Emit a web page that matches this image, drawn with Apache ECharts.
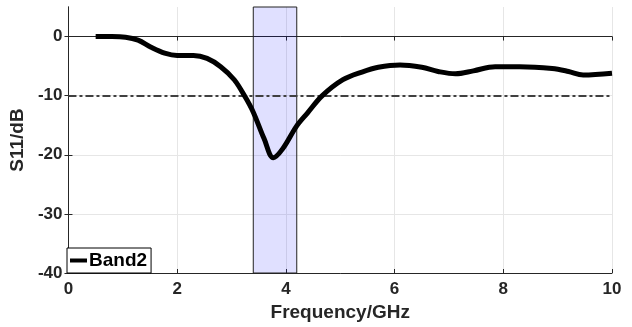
<!DOCTYPE html>
<html>
<head>
<meta charset="utf-8">
<script src="https://cdn.jsdelivr.net/npm/echarts@6/dist/echarts.min.js"></script>
<style>
  html, body { margin: 0; padding: 0; background: #fff; }
  #chart { width: 632px; height: 327px; }
</style>
</head>
<body>
<div id="chart"></div>
<script>
// S11 curve
var freq = [0.5, 0.8, 1.05, 1.28, 1.52, 1.77, 2.0, 2.3, 2.55, 2.8, 3.05, 3.25, 3.4, 3.6, 3.77, 3.94, 4.2, 4.4, 4.67, 5.05, 5.4, 5.7, 6.1, 6.5, 6.8, 7.12, 7.45, 7.85, 8.3, 8.9, 9.2, 9.47, 10];
var s11 = [0, 0, -0.1, -0.6, -1.8, -2.8, -3.2, -3.2, -3.7, -5.1, -7.3, -10.2, -12.8, -17.3, -20.5, -19, -15.1, -12.9, -10, -7.3, -6.0, -5.2, -4.8, -5.2, -5.9, -6.3, -5.8, -5.1, -5.1, -5.4, -5.9, -6.5, -6.2];
var band = [3.4, 4.2];
var threshold = -10;
var xTicks = [0, 2, 4, 6, 8, 10];
var yTicks = [-40, -30, -20, -10, 0];

var font = "'Liberation Sans', Arial, sans-serif";
var axisColor = '#262626';

var points = freq.map(function (f, i) { return [f, s11[i]]; });

var chart = echarts.init(document.getElementById('chart'));

function ticks(values) {
    return { show: true, inside: true, length: 4, customValues: values, lineStyle: { color: axisColor } };
}

chart.setOption({
    animation: false,
    grid: { left: 67, right: 20, top: 7, bottom: 54, show: false },
    legend: {
        left: 67,
        bottom: 54,
        orient: 'vertical',
        padding: [3, 4, 3, 3],
        itemWidth: 17,
        itemHeight: 4,
        icon: 'rect',
        borderColor: '#000',
        borderWidth: 1,
        backgroundColor: '#fff',
        borderRadius: 0,
        textStyle: { fontFamily: font, fontWeight: 'bold', fontSize: 19, color: '#000', padding: [0, 0, 0, -3] },
        data: ['Band2']
    },
    xAxis: [{
        type: 'value',
        min: 0, max: 10, interval: 2,
        name: 'Frequency/GHz',
        nameLocation: 'middle',
        nameGap: 28,
        nameTextStyle: { fontFamily: font, fontWeight: 'bold', fontSize: 19, color: axisColor },
        axisLine: { show: true, onZero: false, lineStyle: { color: axisColor, width: 1 } },
        axisTick: ticks(xTicks),
        axisLabel: {
            customValues: xTicks,
            fontFamily: font, fontWeight: 'bold', fontSize: 17, color: axisColor, margin: 8
        },
        splitLine: { show: true, lineStyle: { color: '#e6e6e6', width: 1 } }
    }, {
        type: 'value',
        position: 'top',
        min: 0, max: 10, interval: 2,
        axisLine: { show: true, lineStyle: { color: axisColor, width: 1 } },
        axisTick: ticks(xTicks),
        axisLabel: { show: false },
        splitLine: { show: false }
    }],
    yAxis: [{
        type: 'value',
        min: -40, max: 5, interval: 10,
        name: 'S11/dB',
        nameLocation: 'middle',
        nameGap: 36,
        nameTextStyle: { fontFamily: font, fontWeight: 'bold', fontSize: 19, color: axisColor },
        axisLine: { show: true, onZero: false, lineStyle: { color: axisColor, width: 1 } },
        axisTick: ticks(yTicks),
        axisLabel: {
            customValues: yTicks,
            fontFamily: font, fontWeight: 'bold', fontSize: 17, color: axisColor, margin: 6
        },
        splitLine: { show: true, lineStyle: { color: '#e6e6e6', width: 1 } }
    }, {
        type: 'value',
        position: 'right',
        min: -40, max: 5, interval: 10,
        axisLine: { show: true, lineStyle: { color: axisColor, width: 1 } },
        axisTick: ticks(yTicks),
        axisLabel: { show: false },
        splitLine: { show: false }
    }],
    series: [{
        name: 'Band2',
        type: 'line',
        data: points,
        smooth: 0.35,
        showSymbol: false,
        symbol: 'none',
        lineStyle: { color: '#000', width: 5 },
        itemStyle: { color: '#000' },
        z: 5,
        markArea: {
            silent: true,
            itemStyle: { color: 'rgba(0, 0, 255, 0.12)', borderColor: '#222', borderWidth: 1 },
            data: [[{ xAxis: band[0] }, { xAxis: band[1] }]]
        },
        markLine: {
            silent: true,
            symbol: 'none',
            label: { show: false },
            lineStyle: { color: '#404040', width: 2, type: [8, 3, 3, 3] },
            data: [{ yAxis: threshold }]
        }
    }]
});
</script>
</body>
</html>
